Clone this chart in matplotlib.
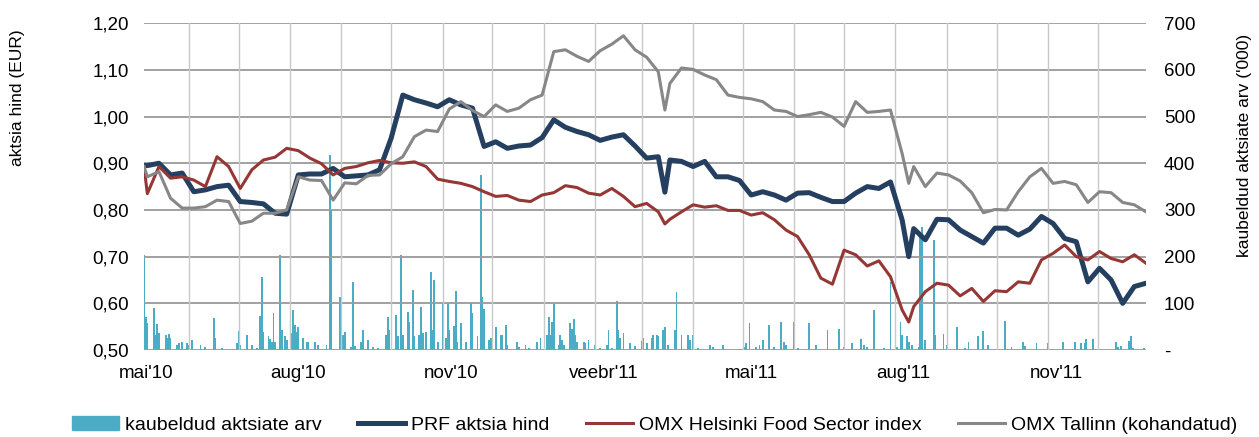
import matplotlib
matplotlib.use('Agg')
import numpy as np
import pandas as pd
import matplotlib.pyplot as plt
import matplotlib.dates as mdates
from matplotlib.ticker import FuncFormatter
from matplotlib.patches import Patch
from matplotlib.lines import Line2D

plt.rcParams['font.family'] = ['Liberation Sans', 'DejaVu Sans']

# weekly closes (Fridays) plus a few extra days with sharp moves
extra_days = ['2010-05-05', '2011-03-15', '2011-08-09']
dates = pd.to_datetime(extra_days).union(pd.date_range('2010-05-07', '2011-12-30', freq='W-FRI'))

prf = [0.895, 0.895, 0.900, 0.875, 0.879, 0.839, 0.843, 0.850, 0.853, 0.818,
       0.816, 0.813, 0.793, 0.791, 0.875, 0.877, 0.877, 0.889, 0.871, 0.873,
       0.875, 0.886, 0.954, 1.046, 1.036, 1.029, 1.021, 1.036, 1.025, 1.018,
       0.936, 0.946, 0.932, 0.937, 0.939, 0.955, 0.993, 0.977, 0.968, 0.961,
       0.949, 0.956, 0.961, 0.937, 0.911, 0.914, 0.838, 0.907, 0.904, 0.893,
       0.904, 0.871, 0.871, 0.863, 0.832, 0.839, 0.832, 0.821, 0.836, 0.837,
       0.827, 0.818, 0.818, 0.836, 0.850, 0.846, 0.860, 0.779, 0.700, 0.760,
       0.736, 0.780, 0.779, 0.757, 0.743, 0.729, 0.761, 0.761, 0.746, 0.759,
       0.786, 0.771, 0.739, 0.732, 0.646, 0.675, 0.650, 0.600, 0.636, 0.643]

helsinki = [0.893, 0.835, 0.893, 0.868, 0.871, 0.864, 0.850, 0.914, 0.893, 0.846,
            0.886, 0.907, 0.913, 0.932, 0.927, 0.911, 0.899, 0.875, 0.889, 0.893,
            0.901, 0.906, 0.901, 0.900, 0.903, 0.893, 0.866, 0.861, 0.857, 0.850,
            0.839, 0.829, 0.831, 0.821, 0.818, 0.832, 0.837, 0.852, 0.848, 0.836,
            0.832, 0.846, 0.829, 0.807, 0.814, 0.796, 0.770, 0.780, 0.796, 0.811,
            0.806, 0.809, 0.799, 0.799, 0.789, 0.794, 0.779, 0.757, 0.743, 0.704,
            0.654, 0.641, 0.714, 0.704, 0.680, 0.691, 0.657, 0.586, 0.560, 0.593,
            0.625, 0.643, 0.639, 0.616, 0.632, 0.604, 0.627, 0.625, 0.646, 0.643,
            0.693, 0.707, 0.725, 0.700, 0.693, 0.711, 0.696, 0.689, 0.704, 0.686]

tallinn = [0.893, 0.871, 0.882, 0.825, 0.804, 0.804, 0.807, 0.821, 0.818, 0.771,
           0.776, 0.793, 0.793, 0.800, 0.871, 0.864, 0.863, 0.821, 0.858, 0.856,
           0.874, 0.875, 0.899, 0.914, 0.957, 0.971, 0.968, 1.016, 1.032, 1.013,
           1.000, 1.025, 1.011, 1.018, 1.036, 1.046, 1.139, 1.143, 1.129, 1.118,
           1.141, 1.155, 1.173, 1.143, 1.127, 1.096, 1.014, 1.071, 1.104, 1.101,
           1.089, 1.079, 1.046, 1.041, 1.038, 1.032, 1.014, 1.011, 1.000, 1.004,
           1.009, 0.999, 0.979, 1.032, 1.009, 1.011, 1.014, 0.921, 0.857, 0.893,
           0.850, 0.879, 0.875, 0.862, 0.837, 0.794, 0.801, 0.800, 0.839, 0.871,
           0.889, 0.857, 0.861, 0.854, 0.816, 0.839, 0.837, 0.816, 0.811, 0.796]

# traded volume, '000 shares
vol_dates = [
    '2010-05-05', '2010-05-06', '2010-05-07', '2010-05-11', '2010-05-12', '2010-05-13', '2010-05-14',
    '2010-05-18', '2010-05-19', '2010-05-20', '2010-05-21', '2010-05-25', '2010-05-26', '2010-05-28',
    '2010-05-31', '2010-06-01', '2010-06-03', '2010-06-08', '2010-06-11', '2010-06-16', '2010-06-17',
    '2010-06-21', '2010-06-30', '2010-07-01', '2010-07-02', '2010-07-06', '2010-07-09', '2010-07-12',
    '2010-07-14', '2010-07-15', '2010-07-16', '2010-07-19', '2010-07-20', '2010-07-21', '2010-07-22',
    '2010-07-23', '2010-07-26', '2010-07-27', '2010-07-29', '2010-07-30', '2010-08-02', '2010-08-03',
    '2010-08-04', '2010-08-05', '2010-08-06', '2010-08-09', '2010-08-11', '2010-08-12', '2010-08-16',
    '2010-08-18', '2010-08-23', '2010-08-25', '2010-08-26', '2010-08-31', '2010-09-01', '2010-09-02',
    '2010-09-03', '2010-09-07', '2010-09-08', '2010-09-09', '2010-09-13', '2010-09-14', '2010-09-17',
    '2010-09-20', '2010-09-23', '2010-09-28', '2010-09-29', '2010-09-30', '2010-10-04', '2010-10-05',
    '2010-10-07', '2010-10-08', '2010-10-11', '2010-10-12', '2010-10-14', '2010-10-15', '2010-10-18',
    '2010-10-19', '2010-10-20', '2010-10-22', '2010-10-25', '2010-10-26', '2010-10-27', '2010-10-29',
    '2010-11-01', '2010-11-03', '2010-11-04', '2010-11-05', '2010-11-08', '2010-11-09', '2010-11-10',
    '2010-11-12', '2010-11-15', '2010-11-18', '2010-11-19', '2010-11-22', '2010-11-24', '2010-11-25',
    '2010-11-26', '2010-11-29', '2010-11-30', '2010-12-03', '2010-12-06', '2010-12-07', '2010-12-09',
    '2010-12-10', '2010-12-16', '2010-12-17', '2010-12-21', '2010-12-23', '2010-12-28', '2010-12-30',
    '2011-01-03', '2011-01-04', '2011-01-05', '2011-01-06', '2011-01-07', '2011-01-10', '2011-01-11',
    '2011-01-12', '2011-01-13', '2011-01-17', '2011-01-18', '2011-01-19', '2011-01-20', '2011-01-21',
    '2011-01-25', '2011-01-26', '2011-01-28', '2011-02-01', '2011-02-04', '2011-02-08', '2011-02-09',
    '2011-02-11', '2011-02-14', '2011-02-15', '2011-02-16', '2011-02-18', '2011-02-22', '2011-02-25',
    '2011-03-01', '2011-03-02', '2011-03-04', '2011-03-07', '2011-03-08', '2011-03-10', '2011-03-11',
    '2011-03-14', '2011-03-15', '2011-03-17', '2011-03-21', '2011-03-22', '2011-03-25', '2011-03-29',
    '2011-03-30', '2011-04-01', '2011-04-04', '2011-04-11', '2011-04-13', '2011-04-19', '2011-05-02',
    '2011-05-03', '2011-05-05', '2011-05-09', '2011-05-11', '2011-05-13', '2011-05-17', '2011-05-20',
    '2011-05-24', '2011-05-26', '2011-05-27', '2011-06-01', '2011-06-03', '2011-06-10', '2011-06-14',
    '2011-06-21', '2011-06-28', '2011-07-01', '2011-07-06', '2011-07-11', '2011-07-13', '2011-07-15',
    '2011-07-19', '2011-07-25', '2011-07-29', '2011-08-02', '2011-08-04', '2011-08-05', '2011-08-08',
    '2011-08-09', '2011-08-11', '2011-08-15', '2011-08-16', '2011-08-17', '2011-08-19', '2011-08-24',
    '2011-08-25', '2011-08-30', '2011-09-01', '2011-09-07', '2011-09-12', '2011-09-14', '2011-09-20',
    '2011-09-23', '2011-09-26', '2011-10-06', '2011-10-10', '2011-10-17', '2011-10-18', '2011-10-25',
    '2011-11-01', '2011-11-10', '2011-11-17', '2011-11-21', '2011-11-23', '2011-11-24', '2011-11-28',
    '2011-12-12', '2011-12-13', '2011-12-15', '2011-12-20', '2011-12-21', '2011-12-22', '2011-12-29']

vol_values = [
    204, 71, 57, 91, 32, 56, 36,
    32, 25, 34, 25, 11, 16, 18,
    16, 11, 21, 11, 6, 68, 25,
    4, 14, 41, 11, 32, 11, 5,
    73, 157, 39, 30, 24, 18, 79,
    18, 204, 43, 30, 21, 36, 86,
    54, 39, 49, 25, 18, 18, 18,
    11, 11, 418, 299, 114, 225, 32,
    39, 7, 146, 9, 18, 43, 21,
    7, 4, 32, 71, 43, 75, 29,
    204, 32, 82, 61, 129, 29, 32,
    93, 36, 39, 168, 43, 150, 18,
    100, 25, 100, 43, 51, 127, 18,
    57, 18, 100, 79, 29, 375, 114,
    87, 21, 25, 50, 32, 32, 54,
    11, 18, 7, 11, 4, 18, 25,
    32, 71, 32, 61, 99, 11, 32,
    21, 11, 57, 46, 66, 32, 18,
    18, 14, 21, 11, 4, 11, 43,
    4, 104, 43, 25, 36, 14, 9,
    20, 25, 14, 25, 32, 32, 29,
    43, 50, 11, 43, 125, 32, 32,
    21, 32, 4, 11, 7, 11, 7,
    14, 57, 7, 11, 21, 54, 7,
    61, 18, 11, 61, 4, 57, 11,
    43, 46, 7, 16, 23, 11, 7,
    86, 4, 146, 7, 61, 32, 29,
    18, 11, 7, 250, 264, 21, 236,
    32, 34, 11, 49, 4, 18, 30,
    41, 11, 63, 7, 18, 9, 16,
    14, 18, 18, 14, 16, 24, 24,
    18, 7, 9, 20, 29, 4, 4]

month_names = {2: 'veebr', 5: 'mai', 8: 'aug', 11: 'nov'}

fig = plt.figure(figsize=(12.59, 4.37), dpi=100)
ax = fig.add_axes([0.1144, 0.199, 0.7958, 0.748])
ax2 = ax.twinx()
ax.set_zorder(2)
ax2.set_zorder(1)
ax.patch.set_visible(False)

ax2.bar(pd.to_datetime(vol_dates), vol_values, width=1.1, color='#4BACC6', linewidth=0)
ax.plot(dates, prf, color='#243F60', lw=3.6, solid_joinstyle='round')
ax.plot(dates, helsinki, color='#953735', lw=2.2, solid_joinstyle='round')
ax.plot(dates, tallinn, color='#878787', lw=2.2, solid_joinstyle='round')

ax.set_xlim(pd.Timestamp('2010-05-05'), pd.Timestamp('2011-12-30'))
ax.set_ylim(0.5, 1.2)
ax2.set_ylim(0, 700)
ax.set_yticks(np.arange(0.5, 1.201, 0.1))
ax2.set_yticks(np.arange(0, 701, 100))
ax.yaxis.set_major_formatter(FuncFormatter(lambda v, p: f'{v:.2f}'.replace('.', ',')))
ax2.yaxis.set_major_formatter(FuncFormatter(lambda v, p: '-' if v == 0 else f'{v:.0f}'))

ax.xaxis.set_major_locator(mdates.MonthLocator(bymonth=[2, 5, 8, 11], bymonthday=6))
ax.xaxis.set_minor_locator(mdates.MonthLocator())
ax.xaxis.set_major_formatter(FuncFormatter(
    lambda v, p: month_names[mdates.num2date(v).month] + "'" + mdates.num2date(v).strftime('%y')))

ax2.yaxis.grid(True, color='#9A9A9A', lw=1.3)
ax.set_axisbelow(True)
ax.xaxis.grid(True, which='minor', color='#C8C8C8', lw=1.0)
ax.xaxis.grid(False, which='major')
ax.yaxis.grid(False)

for a in (ax, ax2):
    for s in a.spines.values():
        s.set_visible(False)
ax.tick_params(axis='both', which='both', length=0, labelsize=13.5)
ax.tick_params(axis='y', pad=11)
ax.tick_params(axis='x', pad=11)
ax2.tick_params(axis='both', which='both', length=0, labelsize=13.5, pad=13)

fig.text(18 / 1259, 1 - 98 / 437, 'aktsia hind (EUR)', rotation=90, ha='center', va='center', fontsize=12.5)
fig.text(1245 / 1259, 1 - 145 / 437, "kaubeldud aktsiate arv ('000)", rotation=90,
         ha='center', va='center', fontsize=12.5)

handles = [Patch(color='#4BACC6'),
           Line2D([], [], color='#243F60', lw=3.6),
           Line2D([], [], color='#953735', lw=2.2),
           Line2D([], [], color='#878787', lw=2.2)]
labels = ['kaubeldud aktsiate arv', 'PRF aktsia hind', 'OMX Helsinki Food Sector index', 'OMX Tallinn (kohandatud)']
fig.legend(handles, labels, loc='center', bbox_to_anchor=(0.52, 1 - 425 / 437), ncol=4,
           frameon=False, fontsize=14, handlelength=2.4, handletextpad=0.3, columnspacing=1.9)

fig.savefig('out.png', dpi=100)
